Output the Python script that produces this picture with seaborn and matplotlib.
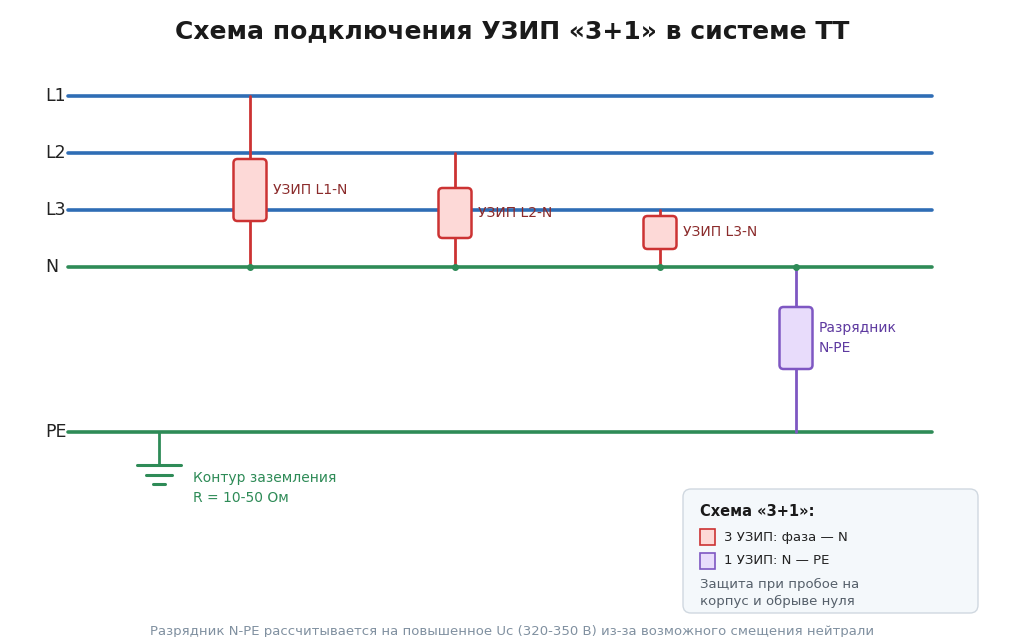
import pandas as pd
import seaborn as sns
import matplotlib.pyplot as plt
from matplotlib.patches import FancyBboxPatch, Rectangle

buses = ['L1', 'L2', 'L3', 'N', 'PE']
bus_y = [96, 153, 210, 267, 432]
bus_colors = ['#2f6db5', '#2f6db5', '#2f6db5', '#2e8b57', '#2e8b57']

spd_labels = ['УЗИП L1-N', 'УЗИП L2-N', 'УЗИП L3-N', 'Разрядник\nN-PE']
spd_x = [250, 455, 660, 796]
spd_top = [96, 153, 210, 267]
spd_bottom = [267, 267, 267, 432]
spd_box = [(159, 221), (188, 238), (216, 249), (307, 369)]

sns.set_theme(style="white")
plt.rcParams['font.family'] = ['DejaVu Sans']

fig = plt.figure(figsize=(10.24, 6.37), dpi=100)
ax = fig.add_axes([0, 0, 1, 1])
ax.set_xlim(0, 1024)
ax.set_ylim(637, 0)
ax.axis('off')

df = pd.DataFrame({'bus': [b for b in buses for _ in range(2)],
                   'x': [68, 932] * len(buses),
                   'y': [y for y in bus_y for _ in range(2)]})
sns.lineplot(data=df, x='x', y='y', hue='bus', palette=dict(zip(buses, bus_colors)),
             linewidth=2.6, legend=False, ax=ax, sort=False)
for b, y in zip(buses, bus_y):
    ax.text(45, y, b, fontsize=12.5, va='center', ha='left', color='#222222')

for i, lab in enumerate(spd_labels):
    purple = i == 3
    ec = '#7e57c2' if purple else '#cc3333'
    fc = '#e8dcfb' if purple else '#fdd9d7'
    tc = '#5e3aa0' if purple else '#8b2b2b'
    x = spd_x[i]
    ax.plot([x, x], [spd_top[i], spd_bottom[i]], color=ec, lw=2, zorder=2)
    ax.plot(x, 267, 'o', color='#2e8b57', ms=4, zorder=4)
    b0, b1 = spd_box[i]
    ax.add_patch(FancyBboxPatch((x - 16.5, b0), 33, b1 - b0, boxstyle='round,pad=0,rounding_size=4',
                                fc=fc, ec=ec, lw=1.8, zorder=3))
    ax.text(x + 23, (b0 + b1) / 2, lab, fontsize=10, color=tc, va='center', ha='left',
            linespacing=1.6)

# заземление
g = '#2e8b57'
ax.plot([159, 159], [432, 465], color=g, lw=2)
for x0, x1, y in [(137, 181, 465), (146, 172, 475), (153, 165, 484)]:
    ax.plot([x0, x1], [y, y], color=g, lw=2.2)
ax.text(193, 488, 'Контур заземления\nR = 10-50 Ом', fontsize=10, color=g, va='center',
        linespacing=1.5)

# легенда
ax.add_patch(FancyBboxPatch((683, 489), 295, 124, boxstyle='round,pad=0,rounding_size=8',
                            fc='#f4f8fb', ec='#d0d8e0', lw=1))
ax.text(700, 511, 'Схема «3+1»:', fontsize=10.5, fontweight='bold', va='center', color='#1a1a1a')
ax.add_patch(Rectangle((700, 529), 15, 16, fc='#fdd9d7', ec='#cc3333', lw=1.2))
ax.text(724, 537, '3 УЗИП: фаза — N', fontsize=9.5, va='center', color='#222222')
ax.add_patch(Rectangle((700, 553), 15, 16, fc='#e8dcfb', ec='#7e57c2', lw=1.2))
ax.text(724, 561, '1 УЗИП: N — PE', fontsize=9.5, va='center', color='#222222')
ax.text(700, 593, 'Защита при пробое на\nкорпус и обрыве нуля', fontsize=9.5, va='center',
        color='#555f6a', linespacing=1.45)

ax.text(512, 31, 'Схема подключения УЗИП «3+1» в системе ТТ', fontsize=18, fontweight='bold',
        ha='center', va='center', color='#1a1a1a')
ax.text(512, 632, 'Разрядник N-PE рассчитывается на повышенное Uc (320-350 В) из-за возможного смещения нейтрали',
        fontsize=9.5, ha='center', va='center', color='#8090a0')

fig.savefig('out.png', dpi=100)
